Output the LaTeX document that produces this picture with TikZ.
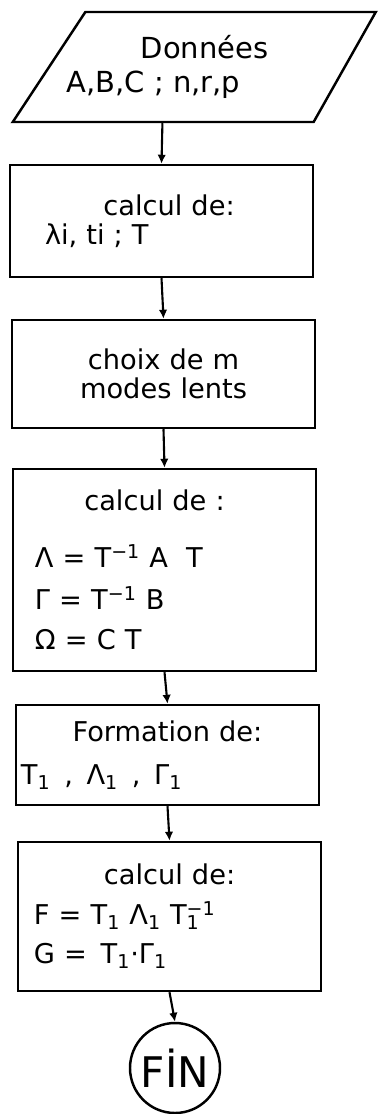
\documentclass[tikz,border=0pt]{standalone}
\usepackage{fontspec}
\setmainfont{DejaVu Sans}
\usetikzlibrary{arrows.meta, shapes.geometric}

\begin{document}
\begin{tikzpicture}[
  box/.style={draw, line width=1.4pt, minimum width=6.06cm, text width=5.66cm,
              inner xsep=0.2cm, align=left, font=\fontsize{15.5}{16.5}\selectfont},
  io/.style={draw, line width=1.4pt, trapezium, trapezium left angle=56,
             trapezium right angle=120, trapezium stretches body,
             minimum width=7.26cm, minimum height=2.2cm, inner xsep=0pt,
             inner ysep=0.45cm, align=center, font=\fontsize{16.5}{19}\selectfont},
  term/.style={draw, line width=1.4pt, circle, minimum size=1.8cm, inner sep=0pt,
               font=\fontsize{24}{28}\selectfont},
  arr/.style={-{Latex[length=1.8mm, width=1.7mm]}, line width=1.2pt}
]
\useasboundingbox (0,0) rectangle (7.62,-22.28);
% input data
\node[io] (data) at (3.99,-1.34) {\hspace*{0.2cm}Données\\\hspace*{-1.84cm}A,B,C ; n,r,p};
% processing steps
\node[box, minimum height=2.24cm] (vp) at (3.23,-4.42)
     {\makebox[\linewidth]{\hspace*{0.3cm}calcul de:}\\\hspace*{0.5cm}λi, ti ; T};
\node[box, minimum height=2.16cm, align=center] (modes) at (3.27,-7.48)
     {choix de m\\modes lents};
\node[box, minimum height=4.04cm] (proj) at (3.29,-11.40)
     {\makebox[\linewidth]{calcul de :\hspace*{0.4cm}}\\[0.55cm]
      \hspace*{0.24cm}Λ = T\textsuperscript{−1} A \ T\\[0.27cm]
      \hspace*{0.24cm}Γ = T\textsuperscript{−1} B\\[0.21cm]
      \hspace*{0.24cm}Ω = C T};
\node[box, minimum height=2.0cm] (form) at (3.35,-15.10)
     {\makebox[\linewidth]{Formation de:}\\[0.27cm]
      \hspace*{-0.1cm}T\textsubscript{1}\, , \,Λ\textsubscript{1}\, , \,Γ\textsubscript{1}};
\node[box, minimum height=2.98cm] (red) at (3.39,-18.33)
     {\makebox[\linewidth]{calcul de:}\\[0.21cm]
      \hspace*{0.12cm}F = T\textsubscript{1} Λ\textsubscript{1} T\rlap{\textsubscript{1}}\textsuperscript{−1}\\[0.21cm]
      \hspace*{0.12cm}G = \,T\textsubscript{1}·Γ\textsubscript{1}};
% end
\node[term] (fin) at (3.5,-21.36) {FİN};
\draw[arr] (data.bottom side) -- (vp.north);
\draw[arr] (vp.south) -- (modes.north);
\draw[arr] (modes.south) -- (proj.north);
\draw[arr] (proj.south) -- (form.north);
\draw[arr] (form.south) -- (red.north);
\draw[arr] (red.south) -- (fin.north);
\end{tikzpicture}
\end{document}
